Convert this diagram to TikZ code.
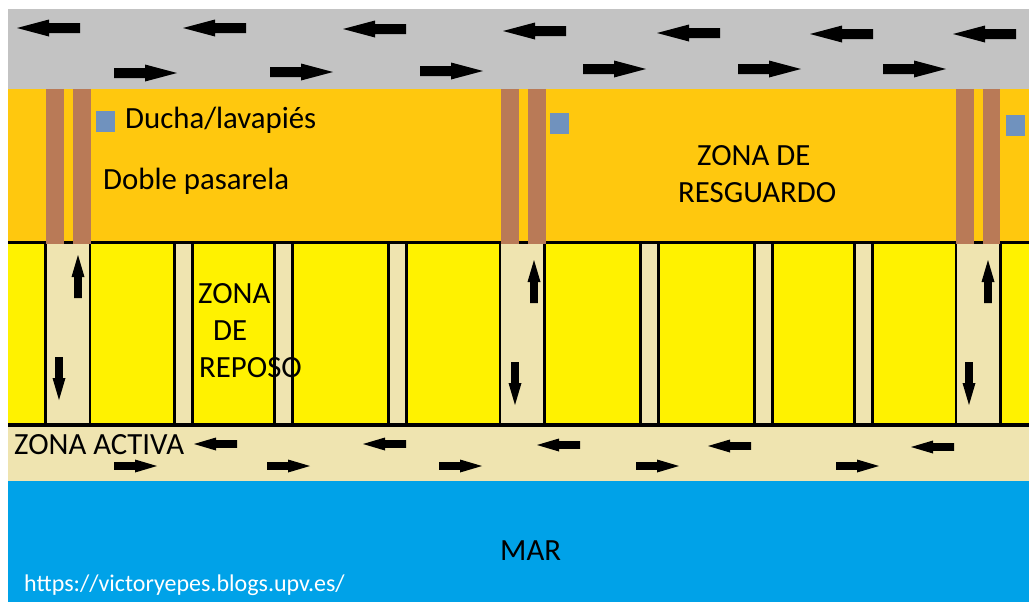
\documentclass[tikz,border=0pt]{standalone}
\usepackage{fontspec}
\setmainfont{Carlito}
\definecolor{cgray}{HTML}{C3C3C3}
\definecolor{corange}{HTML}{FFC80E}
\definecolor{cyellow}{HTML}{FFF200}
\definecolor{cbeige}{HTML}{EFE4B0}
\definecolor{cblue}{HTML}{00A2E8}
\definecolor{cbrown}{HTML}{B97A57}
\definecolor{csquare}{HTML}{7092BE}
\newcommand\BigA[3]{\fill[black,shift={(#1,#2)},rotate=#3] (0,-5)--(31,-5)--(31,-8.5)--(63,0)--(31,8.5)--(31,5)--(0,5)--cycle;}
\newcommand\SmA[3]{\fill[black,shift={(#1,#2)},rotate=#3] (0,-3.8)--(21,-3.8)--(21,-6.5)--(43,0)--(21,6.5)--(21,3.8)--(0,3.8)--cycle;}
\newcommand\VwalkW[1]{%
  \fill[cbeige] (#1,244) rectangle ++(44.5,180);
  \draw[wall] (#1,244)--++(0,180);
  \draw[wall] (#1+44.5,244)--++(0,180);}
\newcommand\VwalkN[1]{%
  \fill[cbeige] (#1,244) rectangle ++(18,180);
  \draw[wall] (#1,244)--++(0,180);
  \draw[wall] (#1+18,244)--++(0,180);}
\newcommand\Brown[1]{\fill[cbrown] (#1,89) rectangle ++(17.5,155);}
\tikzset{wall/.style={black,line width=2.4pt},
  lbl/.style={font=\fontsize{30.8}{34}\selectfont,text=black,inner sep=0pt,anchor=base west},
  sq/.style={fill=csquare,draw=none}}
\begin{document}
\begin{tikzpicture}[x=1pt,y=-1pt]
\useasboundingbox (0,0) rectangle (1029,603);
\fill[white] (0,0) rectangle (1029,603);
\fill[cgray] (8,9) rectangle (1029,89);
\fill[corange] (8,89) rectangle (1029,243);
\fill[cyellow] (8,243) rectangle (1029,425);
\fill[cbeige] (8,425) rectangle (1029,481);
\fill[cblue] (8,481) rectangle (1029,602);
\draw[wall,line width=3.8pt] (8,242.5)--(1029,242.5);
\foreach \x in {45.5,500,955.8}{\VwalkW{\x}}
\foreach \x in {174.5,274.5,388.5,640.5,754.5,854.5}{\VwalkN{\x}}
\draw[wall,line width=3.8pt] (8,425)--(1029,425);
\foreach \x in {46,73,501,528,956,982.5}{\Brown{\x}}
\fill[sq] (96,111) rectangle (115,132);
\fill[sq] (550,113) rectangle (569,134);
\fill[sq] (1006,115) rectangle (1025,136);
\BigA{80}{28}{180}\BigA{246}{28}{180}\BigA{406}{29}{180}\BigA{566}{31}{180}\BigA{720}{33}{180}\BigA{873}{34}{180}\BigA{1016}{34}{180}
\BigA{114}{73}{0}\BigA{270}{72}{0}\BigA{420}{71}{0}\BigA{583}{69}{0}\BigA{738}{69}{0}\BigA{883}{69}{0}
\SmA{237}{444}{180}\SmA{406}{444}{180}\SmA{580}{445}{180}\SmA{751}{446}{180}\SmA{954}{447}{180}
\SmA{114}{466}{0}\SmA{267}{466}{0}\SmA{439}{466}{0}\SmA{636}{466}{0}\SmA{836}{466}{0}
\SmA{78}{298}{90}\SmA{59}{357}{-90}
\SmA{534}{303}{90}\SmA{515}{362}{-90}
\SmA{988}{303}{90}\SmA{969}{362}{-90}
\node[lbl] (ducha) at (125,128) {Ducha/lavapiés};
\node[lbl] (doble) at (103,189.5) {Doble pasarela};
\node[lbl] (res1) at (697,165) {ZONA DE};
\node[lbl] (res2) at (678,202) {RESGUARDO};
\node[lbl] (rep1) at (198,303) {ZONA};
\node[lbl] (rep2) at (213,340) {DE};
\node[lbl] (rep3) at (199,377) {REPOSO};
\node[lbl] (act) at (14,454) {ZONA ACTIVA};
\node[lbl] (mar) at (500,560) {MAR};
\node[lbl,text=white,font=\fontsize{24}{28}\selectfont] (url) at (24,591) {https://victoryepes.blogs.upv.es/};
\end{tikzpicture}
\end{document}
